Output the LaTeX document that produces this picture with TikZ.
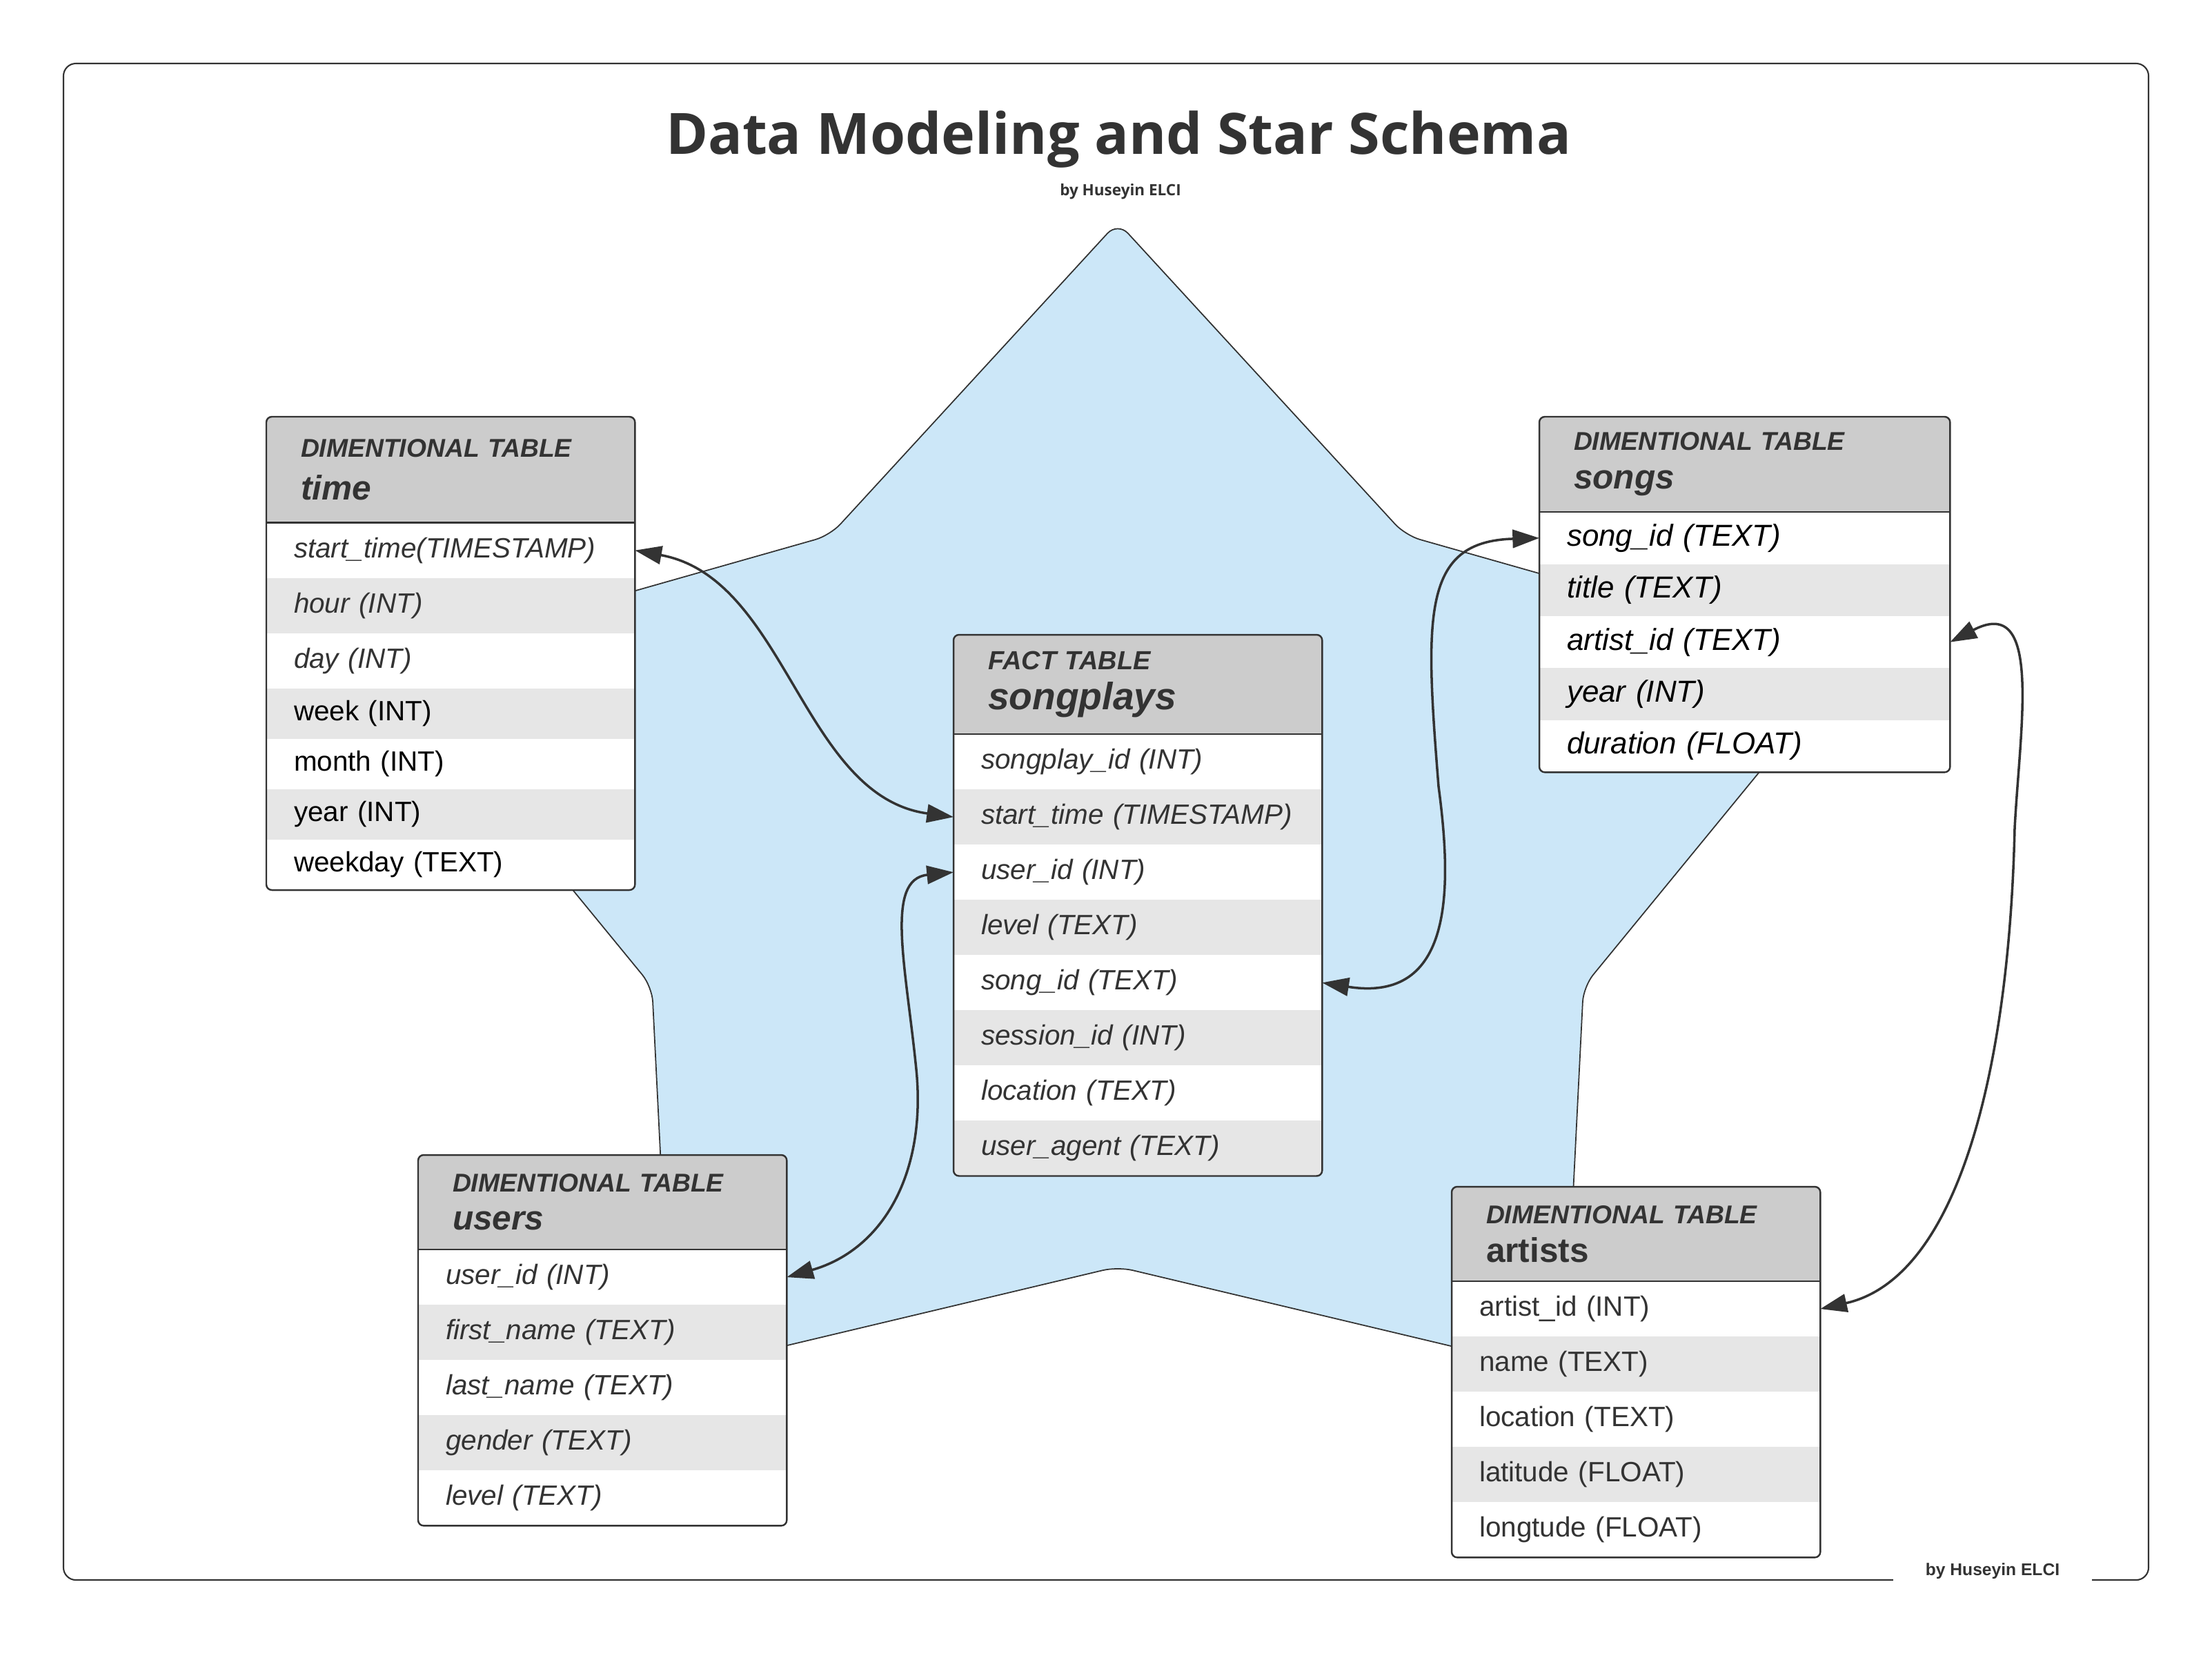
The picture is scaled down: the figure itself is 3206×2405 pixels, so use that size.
\documentclass[tikz,border=0pt]{standalone}
\usepackage{fontspec}
\setmainfont{Liberation Sans}
\newfontfamily\titlefont{Open Sans}
\usetikzlibrary{positioning,arrows.meta}

\definecolor{ink}{HTML}{333333}
\definecolor{hdrgray}{HTML}{CCCCCC}
\definecolor{rowgray}{HTML}{E6E6E6}
\definecolor{starblue}{HTML}{CCE7F8}

\tikzset{
  outerframe/.style={draw=ink, line width=0.6pt, rounded corners=0.18cm},
  credit/.style={fill=white, text=ink, font=\fontsize{7}{8.4}\selectfont\bfseries, minimum width=2.87cm, inner ysep=0.05cm, anchor=base},
  titletext/.style={text=ink, anchor=base, inner sep=0pt},
  starbg/.style={draw=ink, line width=0.5pt, fill=starblue, rounded corners=0.22cm},
  hdr/.style={rectangle, fill=hdrgray, text=ink, anchor=north west, outer sep=0pt, minimum width=5.34cm, text width=4.34cm, inner xsep=0.5cm, inner ysep=0pt, align=left, font=\fontsize{10.6}{15.9}\selectfont\bfseries\itshape},
  fld/.style={rectangle, fill=white, text=ink, outer sep=0pt, minimum width=5.34cm, text width=4.54cm, inner xsep=0.4cm, inner ysep=0pt, minimum height=0.8cm, align=left, font=\fontsize{11.5}{13.8}\selectfont\itshape},
  songfld/.style={fld, minimum width=5.95cm, text width=5.15cm, minimum height=0.754cm, text=black, font=\fontsize{12.5}{15}\selectfont\itshape},
  alt/.style={fill=rowgray},
  upright/.style={font=\fontsize{11.5}{13.8}\selectfont},
  tblframe/.style={draw=ink, line width=0.7pt, rounded corners=0.08cm},
  tblline/.style={draw=ink, line width=0.7pt},
  rel/.style={draw=ink, line width=1pt, <->, >={Triangle[length=11pt,width=7.5pt]}}
}

\begin{document}
\begin{tikzpicture}[x=0.01cm, y=-0.01cm]
\useasboundingbox (0,0) rectangle (3206,2405);

% frame and titles
\draw[outerframe] (92,92) rectangle (3114,2290);
\node[credit] (credit) at (2888,2283) {by Huseyin ELCI};
\node[titletext, font=\titlefont\fontsize{23.5}{28}\selectfont\bfseries] (title) at (1621,223) {Data Modeling and Star Schema};
\node[titletext, font=\titlefont\fontsize{6.4}{8}\selectfont\bfseries] (byline) at (1624,283) {by Huseyin ELCI};

% star
\coordinate (sT) at (1620,322);
\coordinate (sUR) at (2037,776);
\coordinate (sOR) at (2681,959);
\coordinate (sLR) at (2295,1430);
\coordinate (sBR) at (2267,1990);
\coordinate (sB) at (1620,1836);
\coordinate (sBL) at (973,1990);
\coordinate (sLL) at (945,1430);
\coordinate (sOL) at (559,959);
\coordinate (sUL) at (1203,776);
\draw[starbg] (sT) -- (sUR) -- (sOR) -- (sLR) -- (sBR) -- (sB) -- (sBL) -- (sLL) -- (sOL) -- (sUL) -- cycle;

% time
\begin{scope}
\clip[rounded corners=0.08cm] (386,604) rectangle (920,1289.6);
\fill[white] (386,604) rectangle (920,1289.6);
\node[hdr, minimum height=1.536cm, font=\fontsize{10.6}{17.6}\selectfont\bfseries\itshape] (time) at (386,604) {DIMENTIONAL TABLE\\\fontsize{14.1}{17.6}\selectfont time};
\node[fld] (time-1) [below=0pt of time] {start\_time(TIMESTAMP)};
\node[fld, alt] (time-2) [below=0pt of time-1] {hour (INT)};
\node[fld] (time-3) [below=0pt of time-2] {day (INT)};
\node[fld, alt, upright, text=black, minimum height=0.73cm] (time-4) [below=0pt of time-3] {week (INT)};
\node[fld, upright, text=black, minimum height=0.73cm] (time-5) [below=0pt of time-4] {month (INT)};
\node[fld, alt, upright, text=black, minimum height=0.73cm] (time-6) [below=0pt of time-5] {year (INT)};
\node[fld, upright, text=black, minimum height=0.73cm] (time-7) [below=0pt of time-6] {weekday (TEXT)};
\end{scope}
\draw[tblframe] (time.north west) rectangle (time-7.south east);
\draw[tblline] (time.south west) -- (time.south east);

% songs
\begin{scope}
\clip[rounded corners=0.08cm] (2231,604) rectangle (2826,1119);
\fill[white] (2231,604) rectangle (2826,1119);
\node[hdr, minimum width=5.95cm, text width=4.95cm, minimum height=1.38cm] (songs) at (2231,604) {DIMENTIONAL TABLE\\\fontsize{14.1}{15.9}\selectfont songs};
\node[songfld] (songs-1) [below=0pt of songs] {song\_id (TEXT)};
\node[songfld, alt] (songs-2) [below=0pt of songs-1] {title (TEXT)};
\node[songfld] (songs-3) [below=0pt of songs-2] {artist\_id (TEXT)};
\node[songfld, alt] (songs-4) [below=0pt of songs-3] {year (INT)};
\node[songfld] (songs-5) [below=0pt of songs-4] {duration (FLOAT)};
\end{scope}
\draw[tblframe] (songs.north west) rectangle (songs-5.south east);
\draw[tblline] (songs.south west) -- (songs.south east);

% songplays
\begin{scope}
\clip[rounded corners=0.08cm] (1382,920) rectangle (1916,1704);
\fill[white] (1382,920) rectangle (1916,1704);
\node[hdr, minimum height=1.44cm, font=\fontsize{10.8}{16.5}\selectfont\bfseries\itshape] (fact) at (1382,920) {FACT TABLE\\\fontsize{15.7}{16.5}\selectfont songplays};
\node[fld] (fact-1) [below=0pt of fact] {songplay\_id (INT)};
\node[fld, alt] (fact-2) [below=0pt of fact-1] {start\_time (TIMESTAMP)};
\node[fld] (fact-3) [below=0pt of fact-2] {user\_id (INT)};
\node[fld, alt] (fact-4) [below=0pt of fact-3] {level (TEXT)};
\node[fld] (fact-5) [below=0pt of fact-4] {song\_id (TEXT)};
\node[fld, alt] (fact-6) [below=0pt of fact-5] {session\_id (INT)};
\node[fld] (fact-7) [below=0pt of fact-6] {location (TEXT)};
\node[fld, alt] (fact-8) [below=0pt of fact-7] {user\_agent (TEXT)};
\end{scope}
\draw[tblframe] (fact.north west) rectangle (fact-8.south east);
\draw[tblline] (fact.south west) -- (fact.south east);

% users
\begin{scope}
\clip[rounded corners=0.08cm] (606,1674) rectangle (1140,2211);
\fill[white] (606,1674) rectangle (1140,2211);
\node[hdr, minimum height=1.37cm, font=\fontsize{10.6}{15.6}\selectfont\bfseries\itshape] (users) at (606,1674) {DIMENTIONAL TABLE\\\fontsize{14.1}{15.6}\selectfont users};
\node[fld] (users-1) [below=0pt of users] {user\_id (INT)};
\node[fld, alt] (users-2) [below=0pt of users-1] {first\_name (TEXT)};
\node[fld] (users-3) [below=0pt of users-2] {last\_name (TEXT)};
\node[fld, alt] (users-4) [below=0pt of users-3] {gender (TEXT)};
\node[fld] (users-5) [below=0pt of users-4] {level (TEXT)};
\end{scope}
\draw[tblframe] (users.north west) rectangle (users-5.south east);
\draw[tblline] (users.south west) -- (users.south east);

% artists
\begin{scope}
\clip[rounded corners=0.08cm] (2104,1720) rectangle (2638,2257);
\fill[white] (2104,1720) rectangle (2638,2257);
\node[hdr, minimum height=1.37cm] (artists) at (2104,1720) {DIMENTIONAL TABLE\\\fontsize{14.1}{15.9}\selectfont\upshape artists};
\node[fld, upright] (artists-1) [below=0pt of artists] {artist\_id (INT)};
\node[fld, alt, upright] (artists-2) [below=0pt of artists-1] {name (TEXT)};
\node[fld, upright] (artists-3) [below=0pt of artists-2] {location (TEXT)};
\node[fld, alt, upright] (artists-4) [below=0pt of artists-3] {latitude (FLOAT)};
\node[fld, upright] (artists-5) [below=0pt of artists-4] {longtude (FLOAT)};
\end{scope}
\draw[tblframe] (artists.north west) rectangle (artists-5.south east);
\draw[tblline] (artists.south west) -- (artists.south east);

% relations
\coordinate (m2) at (1328,1550);
\coordinate (m3) at (2085,1140);
\coordinate (m4) at (2920,1200);
\draw[rel] (time-1.east) .. controls +(220,40) and +(-220,-30) .. (fact-2.west);
\draw[rel] (fact-3.west) .. controls +(-100,10) and +(-15,-150) .. (m2) .. controls +(15,150) and +(140,-40) .. (users-1.east);
\draw[rel] (fact-5.east) .. controls +(190,30) and +(20,150) .. (m3) .. controls +(-20,-250) and +(-170,5) .. (songs-1.west);
\draw[rel] (songs-3.east) .. controls +(134,-70) and +(8,-150) .. (m4) .. controls +(-8,350) and +(200,-45) .. (artists-1.east);
\end{tikzpicture}
\end{document}
